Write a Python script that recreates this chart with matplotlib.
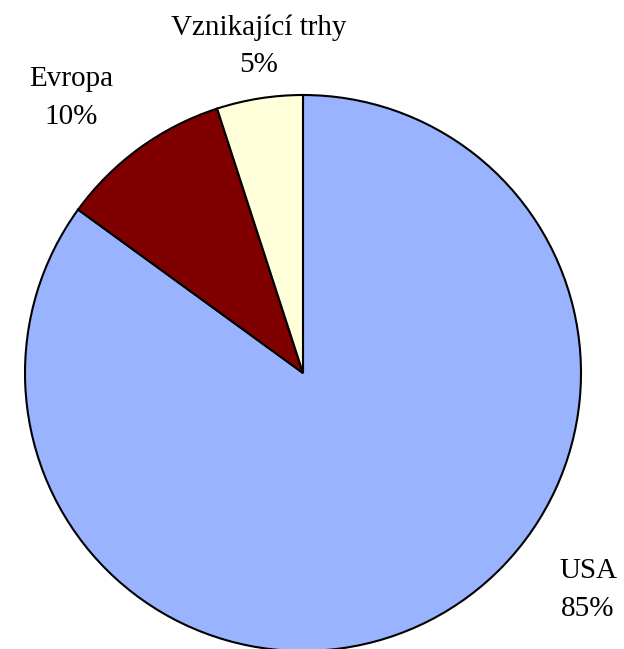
import matplotlib.pyplot as plt

labels = ["USA", "Evropa", "Vznikající trhy"]
shares = [85, 10, 5]
colors = ["#99b3ff", "#800000", "#ffffd9"]

plt.rcParams["font.family"] = ["Liberation Serif", "DejaVu Serif"]

fig = plt.figure(figsize=(6.24, 6.49), dpi=100)
ax = fig.add_axes([0, 0, 1, 1])

# pixel-like coordinates, y measured from the bottom
ax.pie(shares, colors=colors, startangle=90, counterclock=False,
       center=(303, 276), radius=278,
       wedgeprops=dict(edgecolor="black", linewidth=1.5))

label_pos = {"USA": (588, 59), "Evropa": (71, 551), "Vznikající trhy": (259, 603)}
for lab, val in zip(labels, shares):
    x, y = label_pos[lab]
    ax.text(x, y, f"{lab}\n{val}%", ha="center", va="center",
            fontsize=21, linespacing=1.55)

ax.set_xlim(0, 624)
ax.set_ylim(0, 649)
ax.set_aspect("equal")
ax.axis("off")

fig.savefig("out.png", dpi=100)
